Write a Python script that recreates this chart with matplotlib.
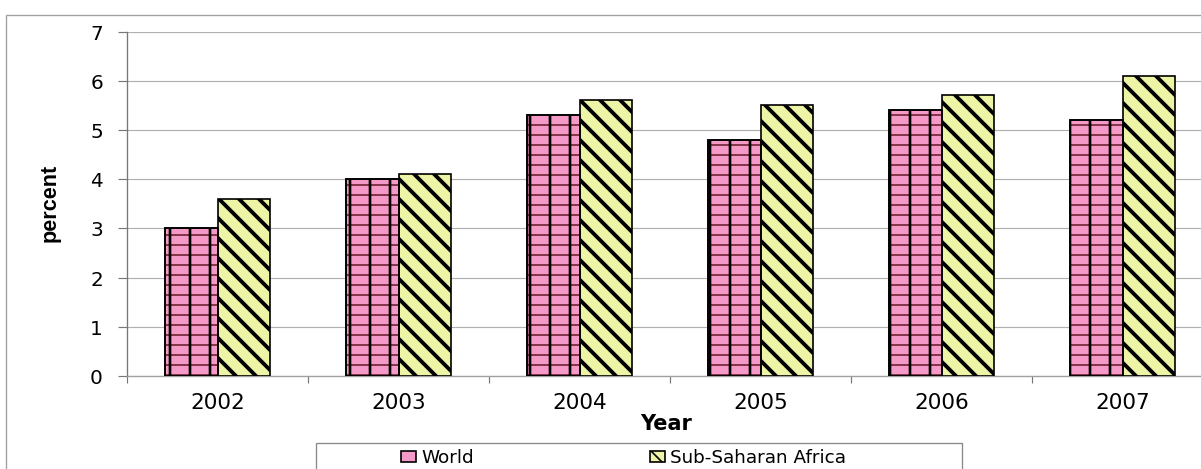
import numpy as np
import matplotlib
matplotlib.use("Agg")
import matplotlib.pyplot as plt
from matplotlib.patches import Patch, Rectangle

years = ["2002", "2003", "2004", "2005", "2006", "2007"]
world = [3.0, 4.0, 5.3, 4.8, 5.4, 5.2]
ssa = [3.6, 4.1, 5.6, 5.5, 5.7, 6.1]
series_names = ["World", "Sub-Saharan Africa"]
yticks = [0, 1, 2, 3, 4, 5, 6, 7]

pink = "#f59ac8"
maroon = "#6e2233"
yellow = "#eef4a6"

plt.rcParams["font.family"] = ["DejaVu Sans"]

W, H, DPI = 1201, 469, 120
fig = plt.figure(figsize=((W + 0.5) / DPI, (H + 0.5) / DPI), dpi=DPI)

def px(x, y):
    return x / W, 1 - y / H

# outer chart frame (runs off the right/bottom edge)
fig.patches.append(Rectangle(px(6, 600), 2, (600 - 15) / H, transform=fig.transFigure,
                             fill=False, edgecolor="#a0a0a0", linewidth=0.8))

ax = fig.add_axes([127 / W, 1 - 376 / H, (1213 - 127) / W, (376 - 32) / H])

x = np.arange(len(years))
bw = 0.29


def hatch_lw(p, lw):
    if hasattr(p, "set_hatch_linewidth"):
        p.set_hatch_linewidth(lw)


# World: pink with maroon horizontal lines and black vertical lines
ax.bar(x - bw / 2, world, bw, color=pink, edgecolor="black", linewidth=1.0, zorder=2)
h1 = ax.bar(x - bw / 2, world, bw, color="none", edgecolor=maroon, linewidth=0, hatch="--", zorder=3)
h2 = ax.bar(x - bw / 2, world, bw, color="none", edgecolor="black", linewidth=0, hatch="|", zorder=4)
for p in h1:
    hatch_lw(p, 1.0)
for p in h2:
    hatch_lw(p, 1.6)
ax.bar(x - bw / 2, world, bw, color="none", edgecolor="black", linewidth=1.0, zorder=5)

# Sub-Saharan Africa: yellow with thick black diagonals
s = ax.bar(x + bw / 2, ssa, bw, color=yellow, edgecolor="black", linewidth=1.0, hatch="\\\\", zorder=3)
for p in s:
    hatch_lw(p, 2.3)

ax.set_xlim(-0.5, len(years) - 0.5)
ax.set_ylim(0, 7)
ax.set_yticks(yticks)
ax.set_yticklabels([str(t) for t in yticks], fontsize=12)
ax.set_xticks(x)
ax.set_xticklabels(years, fontsize=13)
ax.set_xticks(np.arange(len(years) + 1) - 0.5, minor=True)
ax.tick_params(axis="x", which="major", length=0, pad=10)
ax.tick_params(axis="x", which="minor", length=4, width=0.7, color="#777777", direction="out")
ax.tick_params(axis="y", length=5.5, width=0.7, color="#777777", pad=9, direction="out")

ax.grid(axis="y", color="#b0b0b0", linewidth=0.7, zorder=0)
ax.set_axisbelow(True)
for side in ["top", "right"]:
    ax.spines[side].set_visible(False)
ax.spines["left"].set_color("#777777")
ax.spines["left"].set_linewidth(0.8)
ax.spines["bottom"].set_color("#a0a0a0")
ax.spines["bottom"].set_linewidth(0.8)

fig.text(*px(50, 203), "percent", rotation=90, ha="center", va="center", fontsize=13,
         fontweight="bold", family=["Liberation Sans Narrow", "Liberation Sans"])
fig.text(*px(666, 424), "Year", ha="center", va="center", fontsize=12.5, fontweight="bold")

# legend box and entries
fig.patches.append(Rectangle(px(316, 500), (962 - 316) / W, (500 - 443) / H,
                             transform=fig.transFigure, fill=False,
                             edgecolor="#8a8a8a", linewidth=0.8))
handles = [Patch(facecolor=pink, edgecolor="black", hatch="-"),
           Patch(facecolor=yellow, edgecolor="black", hatch="\\\\")]
fig.legend(handles, series_names, ncol=2, frameon=False, loc="center left",
           bbox_to_anchor=px(401, 458), borderpad=0, handlelength=0.8, handleheight=0.6,
           handletextpad=0.3, columnspacing=9.6, fontsize=11, borderaxespad=0)

fig.savefig("out.png", dpi=DPI)
